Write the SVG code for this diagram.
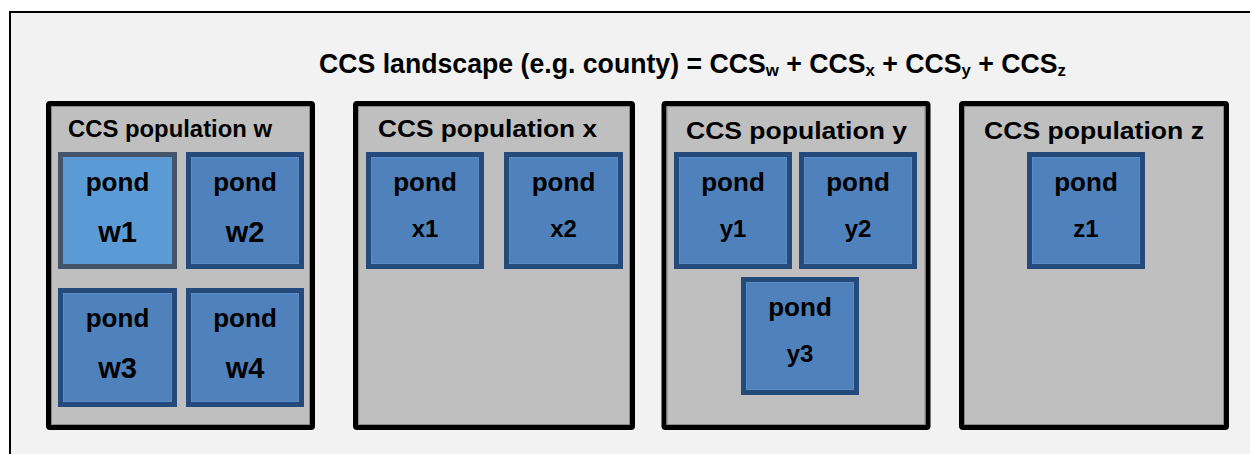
<svg xmlns="http://www.w3.org/2000/svg" width="1250" height="454" viewBox="0 0 1250 454">
<style>
text{font-family:"Liberation Sans",Arial,sans-serif;font-weight:bold;fill:#000}
.pop{fill:#bfbfbf;stroke:#000;stroke-width:5;stroke-linejoin:round}
.popin{fill:none;stroke:#8a8a8a;stroke-width:1}
.pond{fill:#4f81bd;stroke:#24497b;stroke-width:5}
.pondin{fill:none;stroke:#5b8cc6;stroke-width:1}
.pond1{fill:#5b9bd5;stroke:#44546a;stroke-width:5}
.pt{font-size:26px;text-anchor:middle}
.lw{font-size:29px;text-anchor:middle}
.lx{font-size:24px;text-anchor:middle}
.plab{font-size:24px}
</style>
<rect x="0" y="0" width="1250" height="454" fill="#ffffff"/>
<g id="landscape">
<rect x="10" y="12" width="1260" height="460" fill="#f2f2f2" stroke="#000" stroke-width="2"/>
<text x="319" y="73" font-size="27" textLength="747" lengthAdjust="spacingAndGlyphs">CCS landscape (e.g. county) = CCS<tspan font-size="17" dy="3">w</tspan><tspan dy="-3"> + CCS</tspan><tspan font-size="17" dy="3">x</tspan><tspan dy="-3"> + CCS</tspan><tspan font-size="17" dy="3">y</tspan><tspan dy="-3"> + CCS</tspan><tspan font-size="17" dy="3">z</tspan></text>
</g>
<g id="population-w">
<rect class="pop" x="48.5" y="103.5" width="264" height="324" rx="1.5"/>
<rect class="popin" x="51.5" y="106.5" width="258" height="318"/>
<text class="plab" x="68" y="137" textLength="204" lengthAdjust="spacingAndGlyphs">CCS population w</text>
</g>
<g id="population-x">
<rect class="pop" x="355.5" y="103.5" width="277" height="324" rx="1.5"/>
<rect class="popin" x="358.5" y="106.5" width="271" height="318"/>
<text class="plab" x="378" y="137" textLength="219" lengthAdjust="spacingAndGlyphs">CCS population x</text>
</g>
<g id="population-y">
<rect class="pop" x="664" y="103.5" width="264" height="324" rx="1.5"/>
<rect class="popin" x="667" y="106.5" width="258" height="318"/>
<text class="plab" x="686" y="139" textLength="221" lengthAdjust="spacingAndGlyphs">CCS population y</text>
</g>
<g id="population-z">
<rect class="pop" x="961.5" y="103.5" width="265" height="324" rx="1.5"/>
<rect class="popin" x="964.5" y="106.5" width="259" height="318"/>
<text class="plab" x="984" y="139" textLength="220" lengthAdjust="spacingAndGlyphs">CCS population z</text>
</g>
<g id="pond-w1">
<rect class="pond1" x="60.5" y="154.5" width="114" height="112"/>
<text class="pt" x="117.5" y="191">pond</text>
<text class="lw" x="117.5" y="242">w1</text>
</g>
<g id="pond-w2">
<rect class="pond" x="188.5" y="154.5" width="113" height="112"/>
<rect class="pondin" x="191.5" y="157.5" width="107" height="106"/>
<text class="pt" x="245" y="191">pond</text>
<text class="lw" x="245" y="242">w2</text>
</g>
<g id="pond-w3">
<rect class="pond" x="60.5" y="290.5" width="114" height="114"/>
<rect class="pondin" x="63.5" y="293.5" width="108" height="108"/>
<text class="pt" x="117.5" y="327">pond</text>
<text class="lw" x="117.5" y="378">w3</text>
</g>
<g id="pond-w4">
<rect class="pond" x="188.5" y="290.5" width="113" height="114"/>
<rect class="pondin" x="191.5" y="293.5" width="107" height="108"/>
<text class="pt" x="245" y="327">pond</text>
<text class="lw" x="245" y="378">w4</text>
</g>
<g id="pond-x1">
<rect class="pond" x="368.5" y="154.5" width="113" height="112"/>
<rect class="pondin" x="371.5" y="157.5" width="107" height="106"/>
<text class="pt" x="425" y="191">pond</text>
<text class="lx" x="425" y="237">x1</text>
</g>
<g id="pond-x2">
<rect class="pond" x="506.5" y="154.5" width="114" height="112"/>
<rect class="pondin" x="509.5" y="157.5" width="108" height="106"/>
<text class="pt" x="563.5" y="191">pond</text>
<text class="lx" x="563.5" y="237">x2</text>
</g>
<g id="pond-y1">
<rect class="pond" x="676.5" y="154.5" width="113" height="112"/>
<rect class="pondin" x="679.5" y="157.5" width="107" height="106"/>
<text class="pt" x="733" y="191">pond</text>
<text class="lx" x="733" y="237">y1</text>
</g>
<g id="pond-y2">
<rect class="pond" x="801.5" y="154.5" width="113" height="112"/>
<rect class="pondin" x="804.5" y="157.5" width="107" height="106"/>
<text class="pt" x="858" y="191">pond</text>
<text class="lx" x="858" y="237">y2</text>
</g>
<g id="pond-y3">
<rect class="pond" x="743.5" y="279.5" width="113" height="113"/>
<rect class="pondin" x="746.5" y="282.5" width="107" height="107"/>
<text class="pt" x="800" y="316">pond</text>
<text class="lx" x="800" y="362">y3</text>
</g>
<g id="pond-z1">
<rect class="pond" x="1029.5" y="154.5" width="113" height="112"/>
<rect class="pondin" x="1032.5" y="157.5" width="107" height="106"/>
<text class="pt" x="1086" y="191">pond</text>
<text class="lx" x="1086" y="237">z1</text>
</g>
<g id="connectors"/>
</svg>
